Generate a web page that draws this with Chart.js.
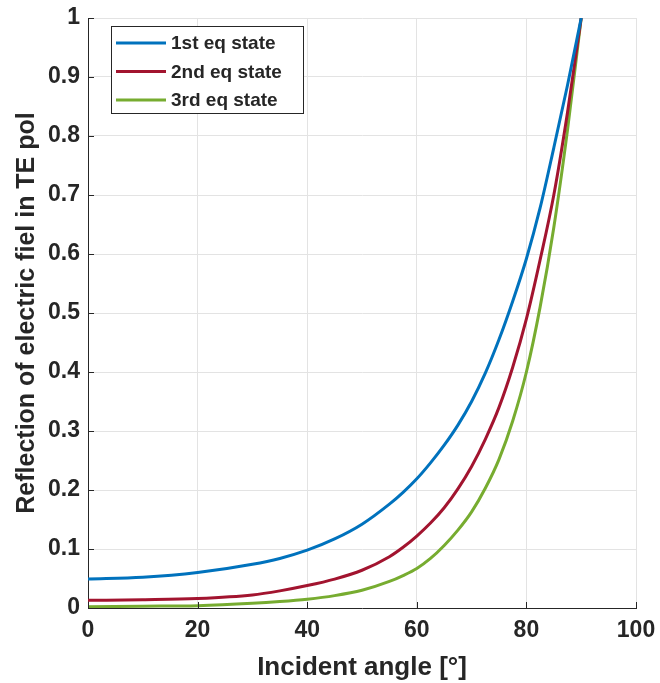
<!DOCTYPE html>
<html>
<head>
<meta charset="utf-8">
<script src="https://cdn.jsdelivr.net/npm/chart.js@4/dist/chart.umd.min.js"></script>
<style>
	html, body { margin: 0; padding: 0; background: #fff; }
	#wrap { width: 660px; height: 683px; }
</style>
</head>
<body>
<div id="wrap"><canvas id="chart" width="660" height="683"></canvas></div>
<script>
// angles (degrees)
var angulos = [0, 10, 20, 30, 35, 40, 45, 50, 55, 57.5, 60, 62.5, 65, 67.5, 70, 72.5, 75, 77.5, 80, 82.5, 85, 87.5, 90];

var serie1 = [0.049, 0.052, 0.060, 0.074, 0.084, 0.098, 0.117, 0.142, 0.176, 0.196, 0.219, 0.246, 0.276, 0.310, 0.350, 0.398, 0.455, 0.520, 0.592, 0.678, 0.780, 0.886, 1.0];
var serie2 = [0.013, 0.014, 0.016, 0.022, 0.029, 0.038, 0.049, 0.064, 0.087, 0.103, 0.122, 0.144, 0.170, 0.202, 0.240, 0.286, 0.340, 0.408, 0.490, 0.590, 0.700, 0.840, 1.0];
var serie3 = [0.002, 0.003, 0.004, 0.008, 0.011, 0.015, 0.021, 0.030, 0.045, 0.055, 0.067, 0.084, 0.106, 0.132, 0.163, 0.203, 0.252, 0.317, 0.400, 0.510, 0.645, 0.810, 1.0];

var etiquetas = ['1st eq state', '2nd eq state', '3rd eq state'];
var colores = ['#0072BD', '#A2142F', '#77AC30'];

var xTicks = [0, 20, 40, 60, 80, 100];
var yTicks = [0, 0.1, 0.2, 0.3, 0.4, 0.5, 0.6, 0.7, 0.8, 0.9, 1];

var textoColor = '#262626';
var fuente = 'Liberation Sans, Arial, Helvetica, sans-serif';

function puntos(valores) {
	return angulos.map(function (a, i) { return { x: a, y: valores[i] }; });
}

// inward tick marks like MATLAB
var marcasInternas = {
	id: 'marcasInternas',
	afterDatasetsDraw: function (chart) {
		var ctx = chart.ctx;
		var area = chart.chartArea;
		var sx = chart.scales.x;
		var sy = chart.scales.y;
		ctx.save();
		ctx.strokeStyle = textoColor;
		ctx.lineWidth = 1;
		ctx.beginPath();
		xTicks.forEach(function (v) {
			var px = Math.round(sx.getPixelForValue(v)) + 0.5;
			ctx.moveTo(px, area.bottom);
			ctx.lineTo(px, area.bottom - 6);
		});
		yTicks.forEach(function (v) {
			var py = Math.round(sy.getPixelForValue(v)) + 0.5;
			ctx.moveTo(area.left, py);
			ctx.lineTo(area.left + 6, py);
		});
		ctx.stroke();
		ctx.restore();
	}
};

// legend box inside the plot, top-left
var leyendaInterna = {
	id: 'leyendaInterna',
	afterDraw: function (chart) {
		var ctx = chart.ctx;
		var area = chart.chartArea;
		var x0 = area.left + 23;
		var y0 = area.top + 8;
		var ancho = 192;
		var alto = 87;
		ctx.save();
		ctx.fillStyle = '#ffffff';
		ctx.fillRect(x0, y0, ancho, alto);
		ctx.strokeStyle = textoColor;
		ctx.lineWidth = 1;
		ctx.strokeRect(x0 + 0.5, y0 + 0.5, ancho, alto);
		ctx.font = 'bold 19px ' + fuente;
		ctx.textBaseline = 'middle';
		chart.data.datasets.forEach(function (ds, i) {
			var fy = y0 + 17 + i * 28.5;
			ctx.strokeStyle = ds.borderColor;
			ctx.lineWidth = 3;
			ctx.beginPath();
			ctx.moveTo(x0 + 5, fy);
			ctx.lineTo(x0 + 55, fy);
			ctx.stroke();
			ctx.fillStyle = textoColor;
			ctx.fillText(ds.label, x0 + 60, fy + 1);
		});
		ctx.restore();
	}
};

var datasets = [serie1, serie2, serie3].map(function (serie, i) {
	return {
		label: etiquetas[i],
		data: puntos(serie),
		borderColor: colores[i],
		backgroundColor: colores[i],
		borderWidth: 3,
		pointRadius: 0,
		cubicInterpolationMode: 'monotone',
		fill: false
	};
});

new Chart(document.getElementById('chart'), {
	type: 'line',
	data: { datasets: datasets },
	plugins: [marcasInternas, leyendaInterna],
	options: {
		responsive: false,
		animation: false,
		layout: { padding: { top: 18, right: 24, left: 0, bottom: 0 } },
		plugins: {
			legend: { display: false },
			tooltip: { enabled: false }
		},
		scales: {
			x: {
				type: 'linear',
				min: 0,
				max: 100,
				afterBuildTicks: function (scale) {
					scale.ticks = xTicks.map(function (v) { return { value: v }; });
				},
				afterFit: function (scale) {
					scale.height = 75;
					scale.paddingLeft = 0;
					scale.paddingRight = 0;
				},
				grid: { color: '#e3e3e3', drawTicks: false },
				border: { color: textoColor, width: 1 },
				ticks: {
					color: textoColor,
					padding: 9,
					maxRotation: 0,
					font: { family: fuente, size: 23, weight: 'bold' }
				},
				title: {
					display: true,
					text: 'Incident angle [°]',
					color: textoColor,
					padding: { top: 2, bottom: 0 },
					font: { family: fuente, size: 26, weight: 'bold' }
				}
			},
			y: {
				type: 'linear',
				min: 0,
				max: 1,
				afterBuildTicks: function (scale) {
					scale.ticks = yTicks.map(function (v) { return { value: v }; });
				},
				afterFit: function (scale) {
					scale.width = 88;
					scale.paddingTop = 0;
					scale.paddingBottom = 0;
				},
				grid: { color: '#e3e3e3', drawTicks: false },
				border: { color: textoColor, width: 1 },
				ticks: {
					color: textoColor,
					padding: 8,
					font: { family: fuente, size: 23, weight: 'bold' },
					callback: function (v) { return String(Math.round(v * 10) / 10); }
				},
				title: {
					display: true,
					text: 'Reflection of electric fiel in TE pol',
					color: textoColor,
					padding: { top: 12, bottom: 4 },
					font: { family: fuente, size: 25, weight: 'bold' }
				}
			}
		}
	}
});
</script>
</body>
</html>
